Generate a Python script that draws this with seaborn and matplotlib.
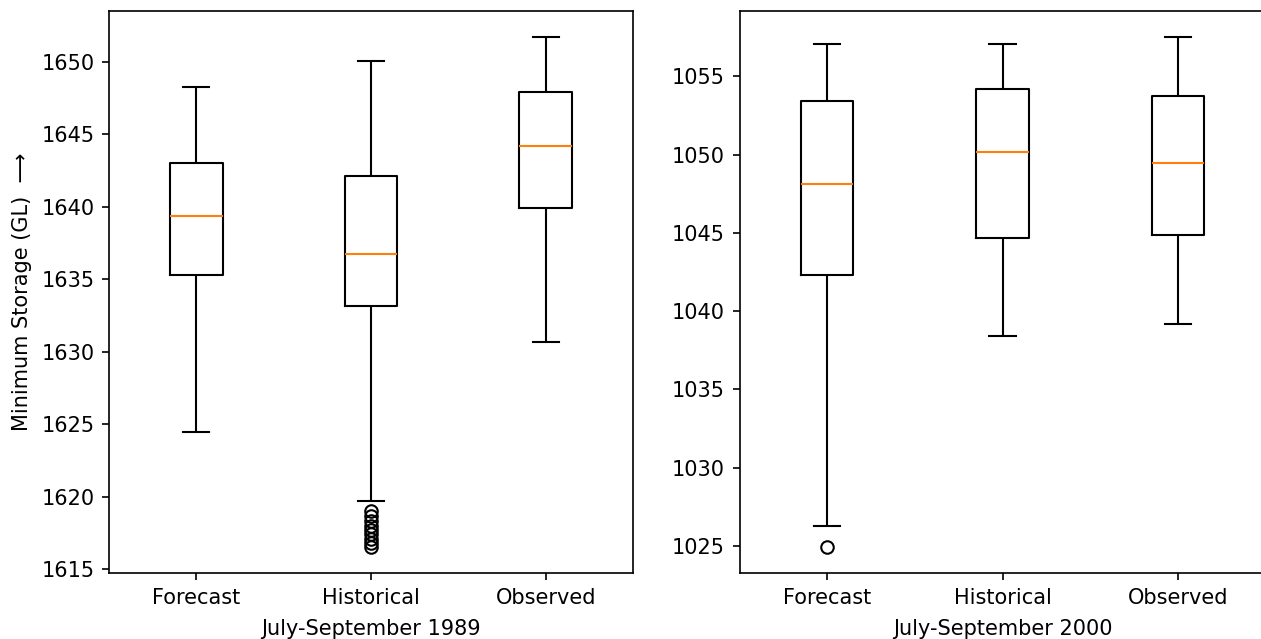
import numpy as np
import pandas as pd
import matplotlib
matplotlib.use("Agg")
import matplotlib.pyplot as plt
import seaborn as sns

groups = ['Forecast', 'Historical', 'Observed']

# five-number summaries (lower whisker, Q1, median, Q3, upper whisker)
whislo_1989 = [1624.45, 1619.70, 1630.65]
q1_1989 = [1635.30, 1633.15, 1639.95]
med_1989 = [1639.35, 1636.75, 1644.20]
q3_1989 = [1643.05, 1642.15, 1647.90]
whishi_1989 = [1648.25, 1650.05, 1651.75]
fliers_1989 = [[], [1619.0, 1618.7, 1618.3, 1618.0, 1617.7, 1617.4, 1617.1, 1616.8, 1616.5], []]

whislo_2000 = [1026.30, 1038.40, 1039.20]
q1_2000 = [1042.30, 1044.65, 1044.85]
med_2000 = [1048.15, 1050.20, 1049.45]
q3_2000 = [1053.40, 1054.20, 1053.75]
whishi_2000 = [1057.05, 1057.05, 1057.55]
fliers_2000 = [[1024.9], [], []]


def build_frame(lo, q1, med, q3, hi, fliers):
    # rebuild a sample whose quartiles/whiskers equal the values read above
    rows = []
    for i, g in enumerate(groups):
        k = len(fliers[i])
        vals = (list(fliers[i]) + [lo[i]] + [q1[i]] * 20 + [med[i]] * 20
                + [q3[i]] * 20 + [hi[i]] * (k + 1))
        rows += [(g, v) for v in vals]
    return pd.DataFrame(rows, columns=['group', 'storage'])


df_1989 = build_frame(whislo_1989, q1_1989, med_1989, q3_1989, whishi_1989, fliers_1989)
df_2000 = build_frame(whislo_2000, q1_2000, med_2000, q3_2000, whishi_2000, fliers_2000)

plt.rcParams['font.family'] = ['DejaVu Sans']
plt.rcParams['font.size'] = 10

DPI = 150
fig = plt.figure(figsize=(1261 / DPI, 639 / DPI), dpi=DPI)
ax1 = fig.add_axes([109 / 1261, 66 / 639, 524 / 1261, 562 / 639])
ax2 = fig.add_axes([739.5 / 1261, 66 / 639, 526 / 1261, 562 / 639])

box_kw = dict(x='group', y='storage', order=groups, width=0.3, whis=1.5,
              fill=False, color='black', linewidth=1,
              medianprops=dict(color='#ff7f0e', linewidth=1),
              flierprops=dict(marker='o', markersize=6, markerfacecolor='none',
                              markeredgecolor='black', markeredgewidth=1))

sns.boxplot(data=df_1989, ax=ax1, **box_kw)
sns.boxplot(data=df_2000, ax=ax2, **box_kw)

ax1.set_xlabel('July-September 1989', labelpad=5.5)
ax2.set_xlabel('July-September 2000', labelpad=5.5)
ax1.set_ylabel('Minimum Storage (GL)  \u27f6', labelpad=4.5)
ax2.set_ylabel('')

for ax in (ax1, ax2):
    ax.set_xlim(-0.5, 2.5)
    for s in ax.spines.values():
        s.set_visible(True)
        s.set_color('black')
    ax.tick_params(direction='out', length=3.5, color='black')

# the right panel runs off the edge of the image in the original
ax2.spines['right'].set_visible(False)

fig.savefig('out.png', dpi=DPI)
